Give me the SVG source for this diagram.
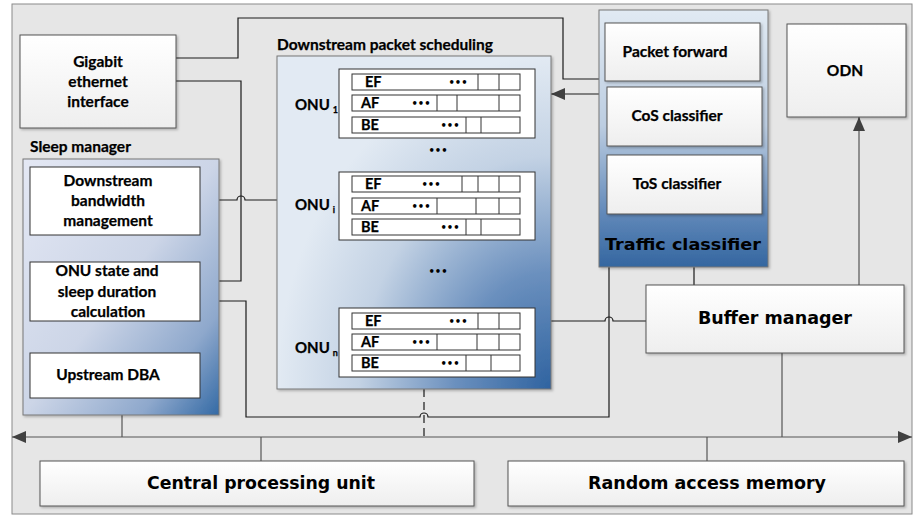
<svg xmlns="http://www.w3.org/2000/svg" width="915" height="516" viewBox="0 0 915 516">
  <defs>
    <style>
      .lbl { font-family: Lato, "Open Sans", "DejaVu Sans", sans-serif; font-weight: 700; font-size: 15.5px; fill: #000; stroke: #000; stroke-width: 0.25px; }
      .onu { font-size: 15px; }
      .sub { font-size: 9px; }
      .big { font-family: "DejaVu Sans", Verdana, sans-serif; font-weight: 700; fill: #000; }
      .q { font-family: Lato, "Open Sans", sans-serif; font-weight: 700; font-size: 14.5px; fill: #000; stroke: #000; stroke-width: 0.25px; }
      .dots { font-family: "DejaVu Sans", sans-serif; font-weight: 700; font-size: 10px; fill: #000; text-anchor: middle; }
      .box { fill: url(#boxFill); stroke: #555; stroke-width: 1; filter: url(#shadow); }
      .plain { fill: #fff; stroke: #333; stroke-width: 1; }
      .row { fill: #fff; stroke: #333; stroke-width: 1; }
      .div { stroke: #333; stroke-width: 1; }
      .wire { fill: none; stroke: #1a1a1a; stroke-width: 1.2; }
      .bus { fill: none; stroke: #555; stroke-width: 1.2; }
    </style>
    <linearGradient id="boxFill" x1="0" y1="0" x2="0" y2="1">
      <stop offset="0" stop-color="#ffffff"/>
      <stop offset="1" stop-color="#eeeeee"/>
    </linearGradient>
    <linearGradient id="sleepFill" x1="0" y1="0" x2="1" y2="1">
      <stop offset="0" stop-color="#e4e8f4"/>
      <stop offset="0.5" stop-color="#ccd5e7"/>
      <stop offset="0.8" stop-color="#8ea8cc"/>
      <stop offset="1" stop-color="#346aa5"/>
    </linearGradient>
    <radialGradient id="schedFill" cx="1" cy="1" r="1" fx="1" fy="1">
      <stop offset="0" stop-color="#2f63a0"/>
      <stop offset="0.35" stop-color="#6b90be"/>
      <stop offset="0.7" stop-color="#c3d2e4"/>
      <stop offset="1" stop-color="#e2eaf3"/>
    </radialGradient>
    <linearGradient id="tcFill" x1="0" y1="0" x2="0" y2="1">
      <stop offset="0" stop-color="#e1eaf3"/>
      <stop offset="0.45" stop-color="#bccde1"/>
      <stop offset="0.8" stop-color="#5f87b8"/>
      <stop offset="1" stop-color="#3466a0"/>
    </linearGradient>
    <filter id="shadow" x="-5%" y="-5%" width="115%" height="120%">
      <feDropShadow dx="1.5" dy="1.5" stdDeviation="1" flood-color="#000" flood-opacity="0.25"/>
    </filter>
    <marker id="arrow" viewBox="0 0 14 12" refX="14" refY="6" markerWidth="14" markerHeight="12" markerUnits="userSpaceOnUse" orient="auto-start-reverse">
      <path d="M0,0 L14,6 L0,12 Z" fill="#404040"/>
    </marker>
  </defs>

  <!-- outer frame -->
  <rect x="12" y="4" width="900" height="510" fill="#e6e6e6" stroke="#8a8a8a" stroke-width="1"/>

  <!-- connectors -->
  <g id="connectors">
    <path class="wire" d="M176,58 H238 V18 H563 V79 H599"/>
    <path class="wire" d="M176,81 H241 V281 H200"/>
    <path class="wire" d="M200,200 H237 a4,4 0 0 1 8,0 H277"/>
    <path class="wire" d="M200,301 H246 V417 H420 a4,4 0 0 1 8,0 H609 V267"/>
    <path class="wire" d="M551,321 H605 a4,4 0 0 1 8,0 H646"/>
    <path class="wire" d="M694,267 V285"/>
    <path class="wire" d="M80,235 V262"/>
    <path class="wire" d="M156,321 V353"/>
    <path class="wire" d="M599,94 H551" marker-end="url(#arrow)"/>
    <path class="bus" d="M859,285 V117" marker-end="url(#arrow)"/>
    <path class="wire" d="M424,389 V437" stroke-dasharray="8,5"/>
    <path class="bus" d="M122,415 V437"/>
    <path class="bus" d="M782,353 V437"/>
    <path class="bus" d="M261,437 V461"/>
    <path class="bus" d="M707,437 V461"/>
    <path class="bus" d="M12,437 H912" marker-start="url(#arrow)" marker-end="url(#arrow)"/>
  </g>

  <!-- Gigabit ethernet interface -->
  <g id="gigabit">
    <rect class="box" x="20" y="35" width="156" height="93"/>
    <text class="lbl" x="98" y="67" text-anchor="middle">Gigabit</text>
    <text class="lbl" x="98" y="87" text-anchor="middle">ethernet</text>
    <text class="lbl" x="98" y="107" text-anchor="middle">interface</text>
  </g>

  <!-- Sleep manager -->
  <g id="sleep-manager">
    <text class="lbl" x="30" y="152">Sleep manager</text>
    <rect x="23" y="159" width="196" height="256" fill="url(#sleepFill)" stroke="#777" stroke-width="1" filter="url(#shadow)"/>
  </g>
  <g id="downstream-bandwidth">
    <rect class="plain" x="30" y="167" width="170" height="68"/>
    <text class="lbl" x="108" y="186" text-anchor="middle">Downstream</text>
    <text class="lbl" x="108" y="206" text-anchor="middle">bandwidth</text>
    <text class="lbl" x="108" y="226" text-anchor="middle">management</text>
  </g>
  <g id="onu-state">
    <rect class="plain" x="30" y="262" width="170" height="59"/>
    <text class="lbl" x="107" y="276" text-anchor="middle">ONU state and</text>
    <text class="lbl" x="107" y="297" text-anchor="middle">sleep duration</text>
    <text class="lbl" x="108" y="317" text-anchor="middle">calculation</text>
  </g>
  <g id="upstream-dba">
    <rect class="plain" x="30" y="353" width="170" height="45"/>
    <text class="lbl" x="108" y="380" text-anchor="middle">Upstream DBA</text>
  </g>

  <!-- Downstream packet scheduling -->
  <g id="packet-scheduling">
    <text class="lbl" x="277" y="50">Downstream packet scheduling</text>
    <rect x="277" y="56" width="274" height="333" fill="url(#schedFill)" stroke="#777" stroke-width="1" filter="url(#shadow)"/>
    <text class="dots" x="438" y="154" font-size="11">•••</text>
    <text class="dots" x="438" y="275" font-size="11">•••</text>
  </g>

  <!-- ONU 1 queues -->
  <g id="onu-1">
    <rect class="plain" x="339" y="69" width="196" height="69"/>
    <rect class="row" x="352" y="74" width="168" height="16"/>
    <rect class="row" x="352" y="95" width="168" height="16"/>
    <rect class="row" x="352" y="117" width="168" height="16"/>
    <text class="lbl onu" x="295" y="110">ONU<tspan class="sub" dx="3" dy="3">1</tspan></text>
    <text class="q" x="365" y="87">EF</text>
    <text class="q" x="361" y="108">AF</text>
    <text class="q" x="361" y="130">BE</text>
    <text class="dots" x="458" y="86">•••</text>
    <text class="dots" x="421" y="107">•••</text>
    <text class="dots" x="450" y="129">•••</text>
    <path class="div" d="M478,74 V90 M499,74 V90 M437,95 V111 M457,95 V111 M499,95 V111 M466,117 V133 M481,117 V133"/>
  </g>

  <!-- ONU i queues -->
  <g id="onu-i">
    <rect class="plain" x="339" y="172" width="196" height="68"/>
    <rect class="row" x="352" y="176" width="168" height="16"/>
    <rect class="row" x="352" y="198" width="168" height="16"/>
    <rect class="row" x="352" y="219" width="168" height="16"/>
    <text class="lbl onu" x="295" y="210">ONU<tspan class="sub" dx="3" dy="3">i</tspan></text>
    <text class="q" x="365" y="189">EF</text>
    <text class="q" x="361" y="211">AF</text>
    <text class="q" x="361" y="232">BE</text>
    <text class="dots" x="431" y="188">•••</text>
    <text class="dots" x="421" y="210">•••</text>
    <text class="dots" x="450" y="231">•••</text>
    <path class="div" d="M462,176 V192 M478,176 V192 M499,176 V192 M437,198 V214 M476,198 V214 M499,198 V214 M466,219 V235 M481,219 V235"/>
  </g>

  <!-- ONU n queues -->
  <g id="onu-n">
    <rect class="plain" x="339" y="308" width="196" height="69"/>
    <rect class="row" x="352" y="313" width="168" height="16"/>
    <rect class="row" x="352" y="334" width="168" height="16"/>
    <rect class="row" x="352" y="355" width="168" height="16"/>
    <text class="lbl onu" x="295" y="353">ONU<tspan class="sub" dx="3" dy="3">n</tspan></text>
    <text class="q" x="365" y="326">EF</text>
    <text class="q" x="361" y="347">AF</text>
    <text class="q" x="361" y="368">BE</text>
    <text class="dots" x="458" y="325">•••</text>
    <text class="dots" x="421" y="346">•••</text>
    <text class="dots" x="450" y="367">•••</text>
    <path class="div" d="M478,313 V329 M499,313 V329 M437,334 V350 M477,334 V350 M499,334 V350 M466,355 V371 M491,355 V371"/>
  </g>

  <!-- Traffic classifier -->
  <g id="traffic-classifier">
    <rect x="599" y="10" width="169" height="257" fill="url(#tcFill)" stroke="#777" stroke-width="1" filter="url(#shadow)"/>
    <text class="big" x="683" y="250" font-size="16" text-anchor="middle" textLength="156" lengthAdjust="spacingAndGlyphs">Traffic classifier</text>
  </g>
  <g id="packet-forward">
    <rect class="box" x="605" y="23" width="155" height="58"/>
    <text class="lbl" x="675" y="57" text-anchor="middle">Packet forward</text>
  </g>
  <g id="cos-classifier">
    <rect class="box" x="607" y="87" width="155" height="59"/>
    <text class="lbl" x="677" y="121" text-anchor="middle">CoS classifier</text>
  </g>
  <g id="tos-classifier">
    <rect class="box" x="607" y="155" width="155" height="59"/>
    <text class="lbl" x="677" y="189" text-anchor="middle">ToS classifier</text>
  </g>

  <!-- ODN -->
  <g id="odn">
    <rect class="box" x="787" y="24" width="119" height="93"/>
    <text class="lbl" x="845" y="76" text-anchor="middle">ODN</text>
  </g>

  <!-- Buffer manager -->
  <g id="buffer-manager">
    <rect class="box" x="646" y="285" width="258" height="68"/>
    <text class="big" x="775" y="324" font-size="17" text-anchor="middle" textLength="154" lengthAdjust="spacingAndGlyphs">Buffer manager</text>
  </g>

  <!-- Central processing unit -->
  <g id="cpu">
    <rect class="box" x="40" y="461" width="434" height="45"/>
    <text class="big" x="261" y="489" font-size="17" text-anchor="middle" textLength="228" lengthAdjust="spacingAndGlyphs">Central processing unit</text>
  </g>

  <!-- Random access memory -->
  <g id="ram">
    <rect class="box" x="508" y="461" width="396" height="45"/>
    <text class="big" x="707" y="489" font-size="17" text-anchor="middle" textLength="238" lengthAdjust="spacingAndGlyphs">Random access memory</text>
  </g>
</svg>
